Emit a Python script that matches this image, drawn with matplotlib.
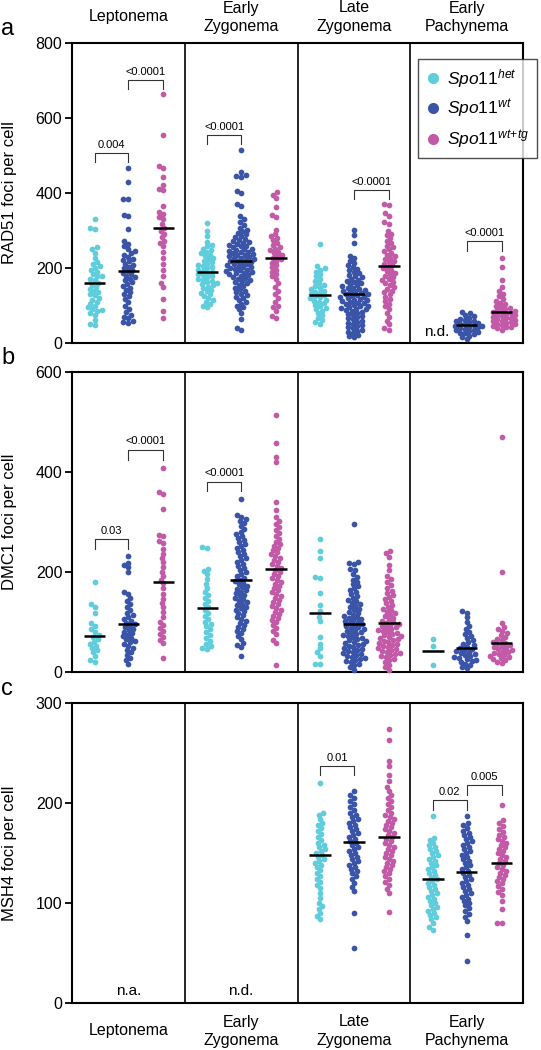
import matplotlib
matplotlib.use("Agg")
import matplotlib.pyplot as plt
from matplotlib.lines import Line2D
import numpy as np

plt.rcParams['font.family'] = ['Liberation Sans', 'DejaVu Sans']
plt.rcParams['mathtext.fontset'] = 'custom'
plt.rcParams['mathtext.rm'] = 'Liberation Sans'
plt.rcParams['mathtext.it'] = 'Liberation Sans:italic'

stages = ['Leptonema', 'Early\nZygonema', 'Late\nZygonema', 'Early\nPachynema']
genotypes = ['het', 'wt', 'wt+tg']
colors = ['#5FCDDC', '#3A54A8', '#C25AA8']

# ---- RAD51 foci per cell (panel a) ----
a_lep_het = [331, 308, 303, 256, 250, 240, 228, 215, 210, 205, 200, 195, 190, 185, 180, 178, 172, 168, 160, 155,
             150, 145, 140, 135, 130, 128, 120, 115, 110, 105, 100, 95, 90, 88, 85, 80, 75, 62, 50, 48]
a_lep_wt = [468, 430, 385, 383, 342, 338, 305, 272, 265, 258, 252, 245, 240, 236, 230, 225, 222, 218, 212, 208,
            204, 200, 196, 192, 188, 184, 180, 176, 172, 168, 162, 158, 152, 148, 142, 136, 130, 125, 118, 110,
            100, 92, 82, 76, 70, 66, 60, 56, 54]
a_lep_tg = [663, 555, 472, 466, 442, 421, 412, 408, 365, 350, 344, 336, 330, 318, 308, 300, 292, 282, 272, 266,
            258, 242, 228, 212, 195, 178, 160, 150, 118, 86, 66]
a_ez_het = [320, 300, 285, 270, 262, 258, 252, 248, 244, 240, 236, 232, 228, 224, 220, 216, 212, 208, 205, 202,
            199, 196, 193, 190, 187, 184, 181, 178, 175, 172, 169, 166, 163, 160, 157, 154, 150, 146, 142, 138,
            134, 130, 125, 120, 115, 110, 105, 100, 96]
a_ez_wt = [515, 455, 447, 445, 442, 405, 400, 372, 365, 338, 330, 322, 315, 308, 302, 298, 294, 290, 286, 282,
           278, 275, 272, 270, 268, 265, 262, 260, 258, 255, 252, 250, 248, 246, 244, 242, 240, 238, 236, 234,
           232, 230, 228, 226, 224, 222, 220, 218, 216, 214, 212, 210, 208, 206, 204, 202, 200, 198, 196, 194,
           192, 190, 188, 186, 184, 182, 180, 177, 174, 171, 168, 165, 162, 159, 156, 152, 148, 144, 140, 136,
           132, 128, 124, 120, 115, 110, 105, 100, 95, 90, 80, 65, 40, 35]
a_ez_tg = [402, 395, 386, 362, 342, 336, 302, 290, 285, 280, 275, 268, 262, 256, 252, 248, 244, 240, 236, 232,
           228, 224, 220, 214, 208, 202, 196, 190, 184, 178, 172, 160, 150, 140, 130, 120, 110, 100, 95, 86, 72, 66]
a_lz_het = [263, 205, 200, 196, 190, 184, 178, 172, 166, 160, 156, 152, 148, 144, 140, 137, 134, 131, 128, 125,
            122, 119, 116, 113, 110, 106, 102, 98, 94, 90, 86, 80, 74, 68, 62, 56, 52]
a_lz_wt = [301, 288, 266, 232, 226, 220, 214, 208, 202, 198, 194, 190, 186, 182, 178, 175, 172, 169, 166, 163,
           160, 157, 154, 151, 148, 146, 144, 142, 140, 138, 136, 134, 132, 130, 128, 126, 124, 122, 120, 118,
           116, 114, 112, 110, 108, 106, 104, 102, 100, 98, 96, 94, 92, 90, 88, 86, 84, 81, 78, 75, 72, 69, 66,
           63, 60, 57, 54, 51, 48, 45, 42, 39, 36, 33, 30, 26, 22, 18, 15]
a_lz_tg = [372, 368, 346, 340, 322, 318, 300, 292, 288, 280, 272, 266, 260, 255, 250, 245, 240, 236, 232, 228,
           224, 220, 216, 212, 208, 204, 200, 196, 192, 188, 184, 180, 176, 172, 168, 164, 160, 155, 150, 145,
           140, 135, 130, 124, 118, 112, 105, 98, 90, 80, 70, 60, 50, 40, 35]
a_ep_het = []
a_ep_wt = [84, 80, 76, 72, 68, 65, 62, 60, 58, 56, 54, 52, 50, 48, 46, 45, 44, 42, 40, 38, 36, 34, 32, 30, 28,
           26, 24, 20, 16, 10]
a_ep_tg = [228, 204, 168, 150, 140, 132, 125, 118, 112, 108, 104, 100, 97, 94, 91, 88, 86, 84, 82, 80, 78, 76,
           74, 72, 70, 68, 66, 64, 62, 60, 58, 56, 54, 52, 50, 48, 46, 44, 42, 40, 36]
a_means = [[160, 193, 308], [190, 218, 227], [128, 130, 206], [None, 48, 83]]

# ---- DMC1 foci per cell (panel b) ----
b_lep_het = [181, 136, 131, 118, 98, 92, 86, 80, 74, 70, 66, 60, 56, 52, 48, 44, 40, 32, 24, 21]
b_lep_wt = [233, 219, 214, 210, 200, 160, 156, 148, 142, 136, 130, 124, 118, 114, 110, 106, 102, 99, 96, 93,
            90, 87, 84, 81, 78, 75, 72, 69, 66, 63, 60, 56, 52, 48, 44, 40, 35, 28, 24, 17]
b_lep_tg = [409, 361, 357, 326, 275, 272, 262, 258, 246, 236, 228, 220, 210, 200, 192, 185, 178, 168, 156, 146,
            138, 130, 120, 110, 100, 94, 88, 82, 76, 70, 64, 58, 28]
b_ez_het = [250, 248, 206, 202, 196, 186, 176, 168, 160, 154, 148, 142, 136, 130, 124, 118, 112, 106, 100, 96,
            92, 86, 80, 74, 68, 62, 56, 52, 48, 46]
b_ez_wt = [347, 315, 310, 306, 302, 298, 292, 286, 280, 276, 272, 268, 264, 260, 256, 252, 248, 244, 240, 236,
           232, 228, 224, 220, 216, 212, 208, 204, 200, 196, 192, 188, 185, 182, 179, 176, 173, 170, 167, 164,
           161, 158, 155, 152, 149, 146, 143, 140, 137, 134, 131, 128, 125, 122, 118, 114, 110, 106, 102, 98,
           94, 90, 86, 82, 78, 72, 66, 58, 54, 50, 33]
b_ez_tg = [515, 458, 430, 420, 341, 324, 310, 302, 296, 290, 284, 278, 272, 266, 260, 256, 252, 248, 244, 240,
           236, 232, 228, 224, 220, 216, 212, 208, 204, 200, 196, 192, 188, 184, 180, 176, 172, 168, 164, 160,
           156, 152, 148, 144, 140, 136, 132, 128, 124, 120, 116, 112, 108, 104, 100, 94, 88, 82, 76, 64, 58, 15]
b_lz_het = [267, 243, 229, 190, 188, 158, 135, 122, 110, 102, 71, 57, 48, 40, 33, 17, 17]
b_lz_wt = [296, 221, 218, 216, 206, 204, 196, 190, 185, 180, 176, 172, 168, 164, 160, 156, 152, 148, 145, 142,
           139, 136, 133, 130, 127, 124, 121, 118, 115, 112, 110, 108, 106, 104, 102, 100, 98, 96, 94, 92, 90,
           88, 86, 84, 82, 80, 78, 76, 74, 72, 70, 68, 66, 64, 62, 60, 58, 56, 54, 52, 50, 48, 46, 44, 42, 40,
           38, 36, 34, 32, 30, 28, 26, 24, 22, 20, 17, 14, 10, 5]
b_lz_tg = [243, 238, 231, 215, 205, 192, 186, 180, 174, 168, 163, 158, 154, 150, 146, 142, 138, 134, 130, 127,
           124, 121, 118, 115, 112, 109, 106, 103, 100, 98, 96, 94, 92, 90, 88, 86, 84, 82, 80, 78, 76, 74, 72,
           70, 68, 66, 64, 62, 60, 58, 56, 54, 52, 50, 48, 46, 44, 42, 40, 38, 36, 34, 32, 30, 27, 24, 20, 15,
           10, 5]
b_ep_het = [67, 53, 15]
b_ep_wt = [123, 119, 110, 100, 92, 86, 80, 76, 72, 68, 64, 60, 57, 54, 51, 48, 46, 44, 42, 40, 38, 36, 34, 32,
           30, 28, 26, 24, 22, 20, 17, 14, 10, 8]
b_ep_tg = [471, 201, 98, 90, 86, 82, 78, 74, 70, 67, 64, 61, 58, 56, 54, 52, 50, 48, 46, 44, 42, 40, 38, 36,
           34, 32, 30, 28, 26, 24, 20, 18]
b_means = [[73, 97, 181], [129, 185, 207], [119, 96, 99], [43, 49, 58]]

# ---- MSH4 foci per cell (panel c) ----
c_lz_het = [220, 190, 188, 184, 180, 178, 175, 172, 169, 166, 163, 160, 158, 156, 154, 152, 150, 148, 146, 144,
            142, 140, 138, 136, 133, 130, 127, 124, 121, 118, 115, 110, 105, 100, 97, 94, 90, 87, 84]
c_lz_wt = [212, 208, 205, 202, 199, 196, 193, 190, 188, 186, 184, 182, 180, 178, 176, 174, 172, 170, 168, 166,
           164, 162, 160, 158, 156, 154, 152, 150, 148, 146, 144, 142, 140, 138, 136, 134, 132, 130, 127, 124,
           120, 116, 112, 90, 55]
c_lz_tg = [274, 263, 242, 237, 228, 222, 216, 212, 208, 205, 202, 199, 196, 193, 190, 188, 186, 184, 182, 180,
           178, 176, 174, 172, 170, 168, 166, 164, 162, 160, 158, 156, 154, 152, 150, 148, 146, 144, 142, 140,
           138, 136, 134, 132, 130, 127, 124, 121, 118, 114, 110, 91]
c_ep_het = [187, 165, 163, 160, 158, 156, 154, 152, 150, 148, 146, 144, 142, 140, 138, 136, 134, 132, 130, 128,
            126, 124, 122, 120, 118, 116, 114, 112, 110, 108, 106, 104, 102, 100, 98, 96, 94, 92, 90, 88, 86,
            84, 80, 76, 73]
c_ep_wt = [187, 180, 178, 175, 172, 170, 168, 166, 164, 162, 160, 158, 156, 154, 152, 150, 148, 146, 144, 142,
           140, 138, 136, 134, 132, 130, 128, 126, 124, 122, 120, 118, 116, 114, 112, 110, 108, 106, 104, 102,
           100, 98, 95, 92, 89, 86, 82, 68, 42]
c_ep_tg = [198, 183, 180, 177, 174, 171, 168, 166, 164, 162, 160, 158, 156, 154, 152, 150, 148, 146, 144, 142,
           140, 138, 136, 134, 132, 130, 128, 126, 124, 122, 120, 117, 114, 111, 108, 102, 94, 80, 80]
c_means = [[None, None, None], [None, None, None], [148, 161, 166], [124, 131, 140]]

# brackets: (stage, group1, group2, top, leg bottom, label)
a_brackets = [(0, 0, 1, 508, 482, '0.004'), (0, 1, 2, 702, 677, '<0.0001'),
              (1, 0, 1, 556, 532, '<0.0001'), (2, 1, 2, 408, 384, '<0.0001'),
              (3, 1, 2, 273, 246, '<0.0001')]
b_brackets = [(0, 0, 1, 266, 246, '0.03'), (0, 1, 2, 445, 425, '<0.0001'),
              (1, 0, 1, 381, 363, '<0.0001')]
c_brackets = [(2, 0, 1, 237, 228, '0.01'), (3, 0, 1, 203, 193, '0.02'), (3, 1, 2, 218, 208, '0.005')]

panels = [
    ('a', 'RAD51 foci per cell', 800, [0, 200, 400, 600, 800],
     [[a_lep_het, a_lep_wt, a_lep_tg], [a_ez_het, a_ez_wt, a_ez_tg],
      [a_lz_het, a_lz_wt, a_lz_tg], [a_ep_het, a_ep_wt, a_ep_tg]],
     a_means, a_brackets, [(3.23, 29, 'n.d.')]),
    ('b', 'DMC1 foci per cell', 600, [0, 200, 400, 600],
     [[b_lep_het, b_lep_wt, b_lep_tg], [b_ez_het, b_ez_wt, b_ez_tg],
      [b_lz_het, b_lz_wt, b_lz_tg], [b_ep_het, b_ep_wt, b_ep_tg]],
     b_means, b_brackets, []),
    ('c', 'MSH4 foci per cell', 300, [0, 100, 200, 300],
     [[[], [], []], [[], [], []], [c_lz_het, c_lz_wt, c_lz_tg], [c_ep_het, c_ep_wt, c_ep_tg]],
     c_means, c_brackets, [(0.5, 12, 'n.a.'), (1.5, 12, 'n.d.')]),
]

W, H = 541, 1050
group_x = [0.2, 0.5, 0.81]
col_px = 113.0
ax_h_px = 300.0
sep_x, sep_y = 5.0, 4.2   # swarm spacing in pixels (elliptical, spreads sparse groups a bit)


def swarm(vals, px_per_unit):
    # simple beeswarm: place each dot as close to the centre as it can go
    vals = np.asarray(vals, dtype=float)
    order = np.argsort(vals)
    placed = []
    xs = np.zeros(len(vals))
    for i in order:
        y = vals[i] * px_per_unit
        spans = []
        for px, py in placed:
            dy = abs(py - y) / sep_y
            if dy < 1:
                w = sep_x * np.sqrt(1 - dy ** 2)
                spans.append((px - w, px + w))
        cands = [0.0] + [s[0] for s in spans] + [s[1] for s in spans]
        cands.sort(key=lambda c: (abs(c), c))
        x = 0.0
        for c in cands:
            if all(not (a + 1e-6 < c < b - 1e-6) for a, b in spans):
                x = c
                break
        placed.append((x, y))
        xs[i] = x / col_px
    return xs


fig = plt.figure(figsize=(W / 100, H / 100), dpi=100)
tops = [43, 372, 703]

for (letter, ylabel, ymax, yticks, data, means, brackets, notes), top in zip(panels, tops):
    ax = fig.add_axes([72 / W, 1 - (top + ax_h_px) / H, 451 / W, ax_h_px / H])
    ax.set_xlim(0, 4)
    ax.set_ylim(0, ymax)
    px_per_unit = ax_h_px / ymax
    for s in range(4):
        for g in range(3):
            vals = data[s][g]
            if len(vals) == 0:
                continue
            xo = swarm(vals, px_per_unit)
            ax.scatter(s + group_x[g] + xo, vals, s=17, color=colors[g], linewidths=0,
                       clip_on=False, zorder=3)
            m = means[s][g]
            if m is not None:
                ax.plot([s + group_x[g] - 0.095, s + group_x[g] + 0.095], [m, m], color='black',
                        lw=1.8, zorder=4, solid_capstyle='butt')
    for xd in [1, 2, 3]:
        ax.axvline(xd, color='black', lw=1.2)
    for s, g1, g2, ytop, yleg, lab in brackets:
        x1, x2 = s + group_x[g1], s + group_x[g2]
        ax.plot([x1, x1, x2, x2], [yleg, ytop, ytop, yleg], color='#333333', lw=0.8, zorder=5)
        ax.annotate(lab, ((x1 + x2) / 2, ytop), xytext=(0, 3), textcoords='offset pixels',
                    ha='center', va='bottom', fontsize=8)
    for xn, yn, t in notes:
        ax.text(xn, yn, t, ha='center', va='center', fontsize=11)
    ax.set_xticks([])
    ax.set_yticks(yticks)
    ax.tick_params(axis='y', length=5, width=1.3, labelsize=11.5, pad=2)
    for sp in ax.spines.values():
        sp.set_linewidth(1.5)
    ax.set_ylabel(ylabel, fontsize=12)
    ax.yaxis.set_label_coords((17 - 72) / 451, 0.5)
    fig.text(1 / W, 1 - (top - 14) / H, letter, fontsize=17, ha='left', va='center')

    if letter == 'a':
        for s, name in enumerate(stages):
            ax.annotate(name, (s + 0.5, 1), xycoords=('data', 'axes fraction'), xytext=(0, 26),
                        textcoords='offset pixels', ha='center', va='center', fontsize=11.5,
                        linespacing=1.25)
        handles = [Line2D([], [], ls='none', marker='o', ms=8, color=c, mec='none') for c in colors]
        labels = [r'$\mathit{Spo11}^{\mathit{het}}$', r'$\mathit{Spo11}^{\mathit{wt}}$',
                  r'$\mathit{Spo11}^{\mathit{wt\!+\!tg}}$']
        leg = ax.legend(handles, labels, loc='upper left', bbox_to_anchor=(418 / W, 1 - 59 / H),
                        bbox_transform=fig.transFigure, fontsize=12.5, frameon=True, fancybox=False,
                        edgecolor='#222222', handlelength=0.8, handletextpad=0.4, borderpad=0.45,
                        labelspacing=0.45, borderaxespad=0)
        leg.get_frame().set_linewidth(1.0)
        leg.set_zorder(10)
    if letter == 'c':
        for s, name in enumerate(stages):
            ax.annotate(name, (s + 0.5, 0), xycoords=('data', 'axes fraction'), xytext=(0, -28),
                        textcoords='offset pixels', ha='center', va='center', fontsize=11.5,
                        linespacing=1.25)

fig.savefig('out.png', dpi=100)
